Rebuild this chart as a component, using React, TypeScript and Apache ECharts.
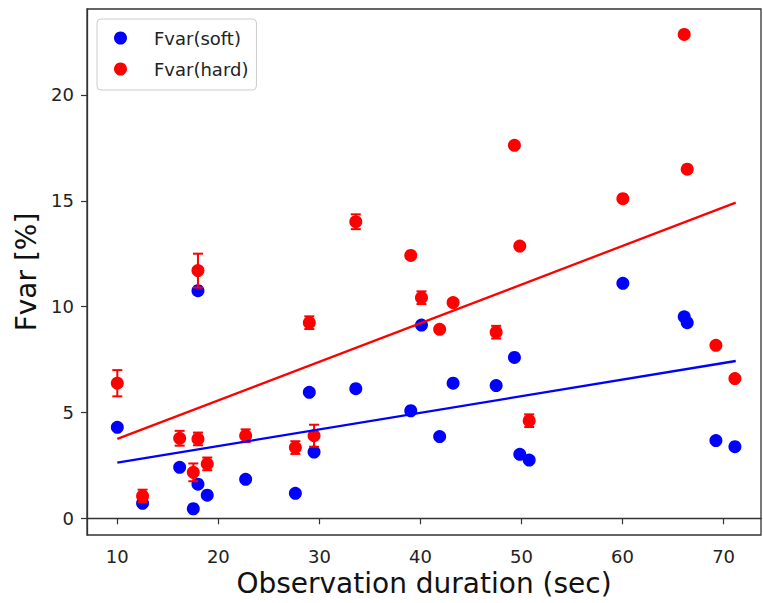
import React, { useEffect, useRef } from "react";
import * as echarts from "echarts";

// Observation duration (sec)
const durations = [
  10, 12.5, 16.17, 17.52, 17.98, 17.98, 18.9, 22.7, 27.62, 29.0, 29.47, 33.6, 39.04,
  40.1, 41.9, 43.23, 47.49, 49.3, 49.83, 50.76, 60.03, 66.1, 66.4, 69.24, 71.12,
];
// Fvar(soft) [%]
const softValues = [
  4.3, 0.71, 2.41, 0.45, 1.61, 10.75, 1.09, 1.84, 1.18, 5.95, 3.13, 6.12, 5.08,
  9.13, 3.86, 6.38, 6.27, 7.6, 3.02, 2.75, 11.1, 9.52, 9.24, 3.67, 3.38,
];
// Fvar(hard) [%]
const hardValues = [
  6.38, 1.05, 3.78, 2.17, 3.75, 11.7, 2.57, 3.9, 3.34, 9.24, 3.9, 14.01, 12.42,
  10.42, 8.93, 10.19, 8.79, 17.62, 12.86, 4.61, 15.1, 22.86, 16.49, 8.17, 6.6,
];
// Fvar(hard) error
const hardErrors = [
  0.62, 0.3, 0.35, 0.42, 0.3, 0.8, 0.3, 0.3, 0.3, 0.3, 0.52, 0.35, 0.1,
  0.3, 0.1, 0.15, 0.3, 0.1, 0.1, 0.3, 0.1, 0.1, 0.1, 0.1, 0.1,
];
// Linear fit end points
const fitX = [10, 71.2];
const softFit = [2.63, 7.43];
const hardFit = [3.75, 14.91];

const xTicks = [10, 20, 30, 40, 50, 60, 70];
const yTicks = [0, 5, 10, 15, 20];

const BLUE = "#0000ff";
const RED = "#ff0000";
const FONT = "DejaVu Sans";

export default function App() {
  const ref = useRef<HTMLDivElement>(null);

  useEffect(() => {
    document.body.style.margin = "0";
    const chart = echarts.init(ref.current!, null, { renderer: "svg" });
    const softData = durations.map((x, i) => [x, softValues[i]]);
    const hardData = durations.map((x, i) => [x, hardValues[i]]);
    const errData = durations.map((x, i) => [
      x,
      hardValues[i] - hardErrors[i],
      hardValues[i] + hardErrors[i],
    ]);

    chart.setOption({
      animation: false,
      backgroundColor: "#ffffff",
      textStyle: { fontFamily: FONT },
      grid: {
        left: 87,
        right: 2,
        top: 9,
        bottom: 68,
        show: true,
        borderColor: "#333",
        borderWidth: 1.3,
        backgroundColor: "transparent",
      },
      legend: {
        data: ["Fvar(soft)", "Fvar(hard)"],
        orient: "vertical",
        left: 97,
        top: 19,
        padding: [10, 8, 12, 17],
        itemGap: 13,
        itemWidth: 13,
        itemHeight: 14,
        borderColor: "#cccccc",
        borderWidth: 1,
        borderRadius: 4,
        backgroundColor: "rgba(255,255,255,0.8)",
        textStyle: {
          fontFamily: FONT,
          fontSize: 18,
          color: "#222",
          padding: [0, 0, 0, 22],
        },
      },
      xAxis: {
        type: "value",
        min: 7,
        max: 73.7,
        name: "Observation duration (sec)",
        nameLocation: "middle",
        nameGap: 33,
        nameTextStyle: { fontFamily: FONT, fontSize: 28, color: "#111" },
        axisLine: { show: true, lineStyle: { color: "#333", width: 1.3 } },
        axisTick: {
          show: true,
          length: 6,
          inside: false,
          customValues: xTicks,
          lineStyle: { color: "#333", width: 1.2 },
        },
        axisLabel: {
          customValues: xTicks,
          margin: 12,
          fontFamily: FONT,
          fontSize: 18,
          color: "#222",
        },
        splitLine: { show: false },
      },
      yAxis: {
        type: "value",
        min: -0.79,
        max: 24.06,
        name: "Fvar [%]",
        nameLocation: "middle",
        nameGap: 44,
        nameTextStyle: { fontFamily: FONT, fontSize: 28, color: "#111" },
        axisLine: { show: true, lineStyle: { color: "#333", width: 1.3 } },
        axisTick: {
          show: true,
          length: 6,
          inside: false,
          customValues: yTicks,
          lineStyle: { color: "#333", width: 1.2 },
        },
        axisLabel: {
          customValues: yTicks,
          margin: 13,
          fontFamily: FONT,
          fontSize: 18,
          color: "#222",
        },
        splitLine: { show: false },
      },
      series: [
        {
          name: "Fvar(soft)",
          type: "scatter",
          data: softData,
          symbol: "circle",
          symbolSize: 13,
          itemStyle: { color: BLUE, opacity: 1 },
          z: 2,
        },
        {
          name: "hardErr",
          type: "custom",
          data: errData,
          z: 3,
          renderItem: (params: any, api: any) => {
            const x = api.value(0);
            const lo = api.coord([x, api.value(1)]);
            const hi = api.coord([x, api.value(2)]);
            const cw = 5;
            const style = { stroke: RED, lineWidth: 2 };
            return {
              type: "group",
              children: [
                { type: "line", shape: { x1: lo[0], y1: lo[1], x2: hi[0], y2: hi[1] }, style },
                { type: "line", shape: { x1: hi[0] - cw, y1: hi[1], x2: hi[0] + cw, y2: hi[1] }, style },
                { type: "line", shape: { x1: lo[0] - cw, y1: lo[1], x2: lo[0] + cw, y2: lo[1] }, style },
              ],
            };
          },
        },
        {
          name: "Fvar(hard)",
          type: "scatter",
          data: hardData,
          symbol: "circle",
          symbolSize: 13,
          itemStyle: { color: RED, opacity: 1 },
          z: 4,
        },
        {
          name: "softFit",
          type: "line",
          data: fitX.map((x, i) => [x, softFit[i]]),
          showSymbol: false,
          lineStyle: { color: BLUE, width: 2.3 },
          z: 5,
        },
        {
          name: "hardFit",
          type: "line",
          data: fitX.map((x, i) => [x, hardFit[i]]),
          showSymbol: false,
          lineStyle: { color: RED, width: 2.3 },
          z: 5,
        },
      ],
    });
    return () => chart.dispose();
  }, []);

  return <div ref={ref} style={{ width: 763, height: 603 }} />;
}
